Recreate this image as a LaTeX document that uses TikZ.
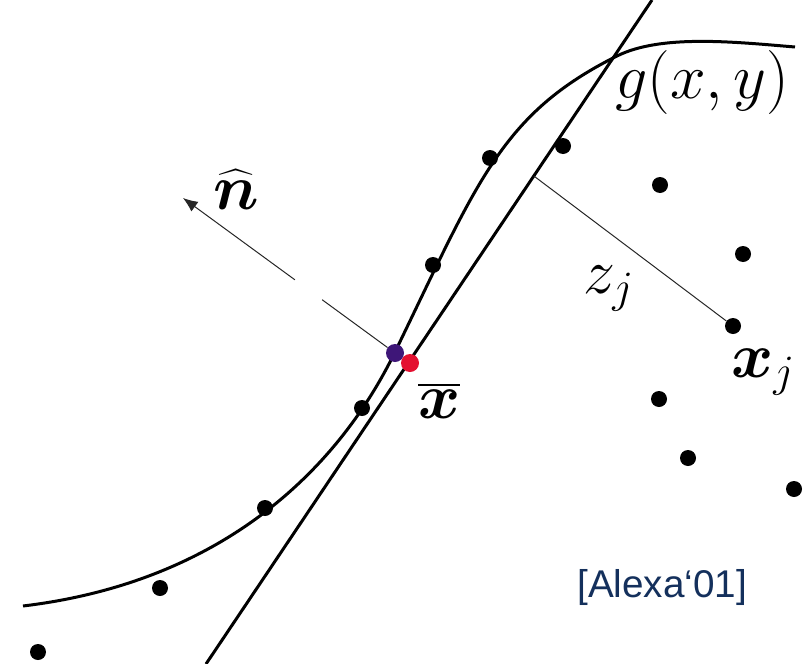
\documentclass[tikz,border=0pt]{standalone}
\usepackage{fix-cm}
\usepackage{amsmath}
\usepackage{fontspec}
\newfontfamily\citefont{Liberation Sans}
\usetikzlibrary{arrows.meta,calc}
\definecolor{citeblue}{RGB}{20,48,92}
\definecolor{projviolet}{RGB}{62,22,120}
\definecolor{meanred}{RGB}{228,16,48}

\begin{document}
\begin{tikzpicture}[
  x=0.75pt, y=-0.75pt,
  sample/.style={circle, fill=black, inner sep=0pt, minimum size=12pt},
  bold line/.style={line width=2.25pt},
  guide/.style={line width=0.75pt, draw=black!85},
  mathlbl/.style={inner sep=0pt, font=\fontsize{48}{48}\selectfont},
  normalarrow/.style={-{Latex[length=11pt,width=9pt]}}
]
  \useasboundingbox (0,0) rectangle (804,664);

  \draw[bold line] (23,606) .. controls (223,582) and (338,469) .. (395,352)
    .. controls (478,181) and (501,114) .. (617,56)
    .. controls (661,34) and (735,42) .. (795,47);
  \coordinate (lineBottom) at (206,664);
  \coordinate (lineTop) at (652,0);
  \draw[bold line] (lineBottom) -- (lineTop);

  \node[sample] (s1) at (38,652) {};
  \node[sample] (s2) at (160,588) {};
  \node[sample] (s3) at (265,508) {};
  \node[sample] (s4) at (362,408) {};
  \node[sample] (s5) at (433,265) {};
  \node[sample] (s6) at (490,158) {};
  \node[sample] (s7) at (563,146) {};
  \node[sample] (s8) at (660,185) {};
  \node[sample] (s9) at (743,254) {};
  \node[sample] (xj) at (733,326) {};
  \node[sample] (s10) at (659,399) {};
  \node[sample] (s11) at (688,458) {};
  \node[sample] (s12) at (794,489) {};

  \node[sample, fill=projviolet, minimum size=13.5pt] (proj) at (395,353) {};
  \node[sample, fill=meanred, minimum size=13.5pt] (mean) at (410,363) {};

  \coordinate (normalTip) at (183,198);
  \draw[guide] (proj) -- ($(proj)!0.344!(normalTip)$);
  \draw[guide, normalarrow] ($(proj)!0.472!(normalTip)$) -- (normalTip);

  \coordinate (foot) at ($(lineBottom)!0.735!(lineTop)$);
  \draw[guide] (foot) -- (xj);

  \node[mathlbl, anchor=base west] (nLabel) at (213,209) {$\widehat{\boldsymbol{n}}$};
  \node[mathlbl, anchor=base west] (meanLabel) at (418,418) {$\overline{\boldsymbol{x}}$};
  \node[mathlbl, anchor=base west] (zLabel) at (583,293) {$z_j$};
  \node[mathlbl, anchor=base west] (xjLabel) at (731,377) {$\boldsymbol{x}_j$};
  \node[mathlbl, anchor=base west] (gLabel) at (615,98) {$g(x,y)$};
  \node[anchor=base west, inner sep=0pt, text=citeblue,
    font=\citefont\fontsize{29}{29}\selectfont] (cite) at (577,597) {[Alexa‘01]};
\end{tikzpicture}
\end{document}
